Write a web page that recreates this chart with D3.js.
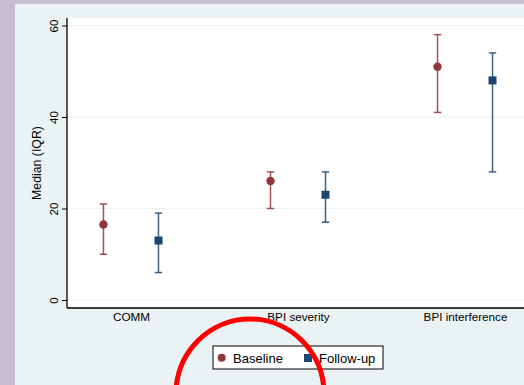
<!DOCTYPE html>
<html>
<head>
<meta charset="utf-8">
<script src="https://cdn.jsdelivr.net/npm/d3@7/dist/d3.min.js"></script>
<style>
  html, body { margin: 0; padding: 0; background: #c5bdd3; }
  svg { display: block; }
  text { font-family: "Liberation Sans", Arial, sans-serif; fill: #000; }
</style>
</head>
<body>
<svg id="chart" width="524" height="385"></svg>
<script>
// Median and interquartile range per outcome, at baseline and follow-up
const categories = ["COMM", "BPI severity", "BPI interference"];
const baselineMedian = [16.5, 26, 51];
const baselineQ1 = [10, 20, 41];
const baselineQ3 = [21, 28, 58];
const followMedian = [13, 23, 48];
const followQ1 = [6, 17, 28];
const followQ3 = [19, 28, 54];
const yTicks = [0, 20, 40, 60];
const seriesNames = ["Baseline", "Follow-up"];

const W = 524, H = 385;
const plot = { left: 67, right: 529, top: 18, bottom: 308 };
const colors = { base: "#90353b", follow: "#1a476f", grid: "#eaf2f3", panel: "#eaf2f3" };

const svg = d3.select("#chart");

// outer frame and panel
svg.append("rect").attr("x", 0).attr("y", 0).attr("width", W).attr("height", H).attr("fill", "#c5bdd3");
svg.append("rect").attr("x", 15).attr("y", 4).attr("width", W - 15).attr("height", H - 4).attr("fill", colors.panel);
svg.append("rect").attr("x", plot.left).attr("y", plot.top)
  .attr("width", plot.right - plot.left).attr("height", plot.bottom - plot.top).attr("fill", "#fff");

const y = d3.scaleLinear().domain([0, 60]).range([300, 25.5]);
const x = d3.scalePoint().domain(categories).range([plot.left, plot.right]).padding(0.383);
const offset = 27.5;

// gridlines
svg.append("g").selectAll("line").data(yTicks).join("line")
  .attr("x1", plot.left).attr("x2", plot.right)
  .attr("y1", d => y(d)).attr("y2", d => y(d))
  .attr("stroke", colors.grid).attr("stroke-width", 1.2);

// y axis
const yAxis = svg.append("g").attr("transform", `translate(${plot.left},0)`)
  .call(d3.axisLeft(y).tickValues(yTicks).tickSize(5).tickPadding(9).tickFormat(d3.format("d")));
yAxis.select(".domain").remove();
yAxis.selectAll(".tick line").attr("stroke", "#000").attr("stroke-width", 1);
yAxis.selectAll(".tick text")
  .attr("font-size", 11.5)
  .attr("x", null).attr("dy", null)
  .attr("text-anchor", "middle")
  .attr("transform", "translate(-9,0) rotate(-90)")
  .attr("y", 0)
  .attr("fill", "#000");
svg.append("line").attr("x1", plot.left).attr("x2", plot.left)
  .attr("y1", plot.top).attr("y2", plot.bottom).attr("stroke", "#000").attr("stroke-width", 1.3);

// y title
svg.append("text")
  .attr("transform", `translate(41,${(plot.top + plot.bottom) / 2}) rotate(-90)`)
  .attr("text-anchor", "middle").attr("font-size", 12.3)
  .text("Median (IQR)");

// x axis
const xAxis = svg.append("g").attr("transform", `translate(0,${plot.bottom})`)
  .call(d3.axisBottom(x).tickSize(0).tickPadding(0));
xAxis.select(".domain").remove();
xAxis.selectAll(".tick text").attr("font-size", 11.7).attr("dy", null).attr("y", 13).attr("fill", "#000");
svg.append("line").attr("x1", plot.left).attr("x2", plot.right)
  .attr("y1", plot.bottom).attr("y2", plot.bottom).attr("stroke", "#000").attr("stroke-width", 1.3);

// error bars with medians
function drawSeries(med, lo, hi, dx, color, shape) {
  const g = svg.append("g");
  const rows = categories.map((c, i) => ({ c, m: med[i], lo: lo[i], hi: hi[i] }));
  const cx = d => x(d.c) + dx;
  g.selectAll(".bar").data(rows).join("line")
    .attr("x1", cx).attr("x2", cx).attr("y1", d => y(d.lo)).attr("y2", d => y(d.hi))
    .attr("stroke", color).attr("stroke-width", 1.5).attr("stroke-opacity", 0.85);
  ["lo", "hi"].forEach(k => {
    g.selectAll(".cap-" + k).data(rows).join("line")
      .attr("x1", d => cx(d) - 3.7).attr("x2", d => cx(d) + 3.7)
      .attr("y1", d => y(d[k])).attr("y2", d => y(d[k]))
      .attr("stroke", color).attr("stroke-width", 1.5).attr("stroke-opacity", 0.85);
  });
  if (shape === "circle") {
    g.selectAll(".pt").data(rows).join("circle")
      .attr("cx", cx).attr("cy", d => y(d.m)).attr("r", 4.2).attr("fill", color);
  } else {
    g.selectAll(".pt").data(rows).join("rect")
      .attr("x", d => cx(d) - 4).attr("y", d => y(d.m) - 4)
      .attr("width", 8).attr("height", 8).attr("fill", color);
  }
}
drawSeries(baselineMedian, baselineQ1, baselineQ3, -offset, colors.base, "circle");
drawSeries(followMedian, followQ1, followQ3, offset, colors.follow, "square");

// legend
const lg = svg.append("g").attr("transform", "translate(213,346)");
lg.append("rect").attr("width", 170).attr("height", 23).attr("fill", "#fff")
  .attr("stroke", "#000").attr("stroke-width", 1);
lg.append("circle").attr("cx", 8.7).attr("cy", 11.7).attr("r", 4).attr("fill", colors.base);
lg.append("text").attr("x", 20).attr("y", 16.5).attr("font-size", 13).text(seriesNames[0]);
lg.append("rect").attr("x", 91).attr("y", 8).attr("width", 8).attr("height", 8).attr("fill", colors.follow);
lg.append("text").attr("x", 106).attr("y", 16.5).attr("font-size", 13).text(seriesNames[1]);

// hand-drawn red circle marking
svg.append("ellipse").attr("cx", 250).attr("cy", 394).attr("rx", 74).attr("ry", 75)
  .attr("fill", "none").attr("stroke", "#ff0000").attr("stroke-width", 5);
</script>
</body>
</html>
